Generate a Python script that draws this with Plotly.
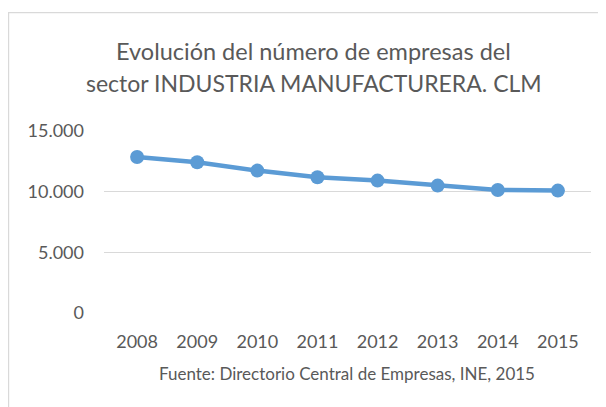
import plotly.graph_objects as go

years = ["2008", "2009", "2010", "2011", "2012", "2013", "2014", "2015"]
empresas = [12857, 12420, 11736, 11184, 10912, 10500, 10137, 10088]
y_ticks = [0, 5000, 10000, 15000]

title_lines = ["Evolución del número de empresas del",
               "sector INDUSTRIA MANUFACTURERA. CLM"]
source_text = "Fuente: Directorio Central de Empresas, INE, 2015"

FONT = "Lato"
GREY = "#595959"

# The page body has an 8px default margin, so the figure is sized to fit.
W, H = 598, 399
L, T, PW, PH = 96, 123, 487, 182


def px_x(x):
    return (x - L) / PW


def px_y(y):
    return (T + PH - y) / PH


fig = go.Figure()
fig.add_trace(go.Scatter(
    x=years, y=empresas, mode="lines+markers",
    line=dict(color="#5B9BD5", width=4.5),
    marker=dict(color="#5B9BD5", size=14),
    hoverinfo="skip",
))

annotations = [
    dict(text=title_lines[0], xref="paper", yref="paper",
         x=px_x(305.6), y=px_y(42.5), xanchor="center", yanchor="middle",
         showarrow=False, font=dict(family=FONT, size=23.5, color=GREY)),
    dict(text=title_lines[1], xref="paper", yref="paper",
         x=px_x(305.6), y=px_y(75.2), xanchor="center", yanchor="middle",
         showarrow=False, font=dict(family=FONT, size=23, color=GREY)),
    dict(text=source_text, xref="paper", yref="paper",
         x=px_x(339), y=px_y(365),
         xanchor="center", yanchor="middle", showarrow=False,
         font=dict(family=FONT, size=17, color=GREY)),
]

fig.update_layout(
    width=W, height=H,
    margin=dict(l=L, r=W - L - PW, t=T, b=H - T - PH, autoexpand=False),
    paper_bgcolor="white", plot_bgcolor="white",
    separators=",.",
    showlegend=False,
    font=dict(family=FONT, color=GREY, size=18),
    xaxis=dict(type="category", showgrid=False, showline=False, zeroline=False,
               ticks="", tickfont=dict(size=18, color=GREY),
               ticklabelstandoff=16),
    yaxis=dict(range=[0, 15000], tickvals=y_ticks, tickformat=",d",
               showgrid=True, gridcolor="#D9D9D9", gridwidth=1,
               zeroline=False, showline=False, ticks="",
               tickfont=dict(size=18, color=GREY),
               ticklabelstandoff=19),
    shapes=[
        dict(type="rect", xref="paper", yref="paper",
             x0=px_x(0.6), x1=px_x(W + 50), y0=px_y(H + 50), y1=px_y(4.7),
             line=dict(color="#D9D9D9", width=1.2), fillcolor="rgba(0,0,0,0)",
             layer="below"),
    ],
    annotations=annotations,
)

fig.write_html("out.html")
